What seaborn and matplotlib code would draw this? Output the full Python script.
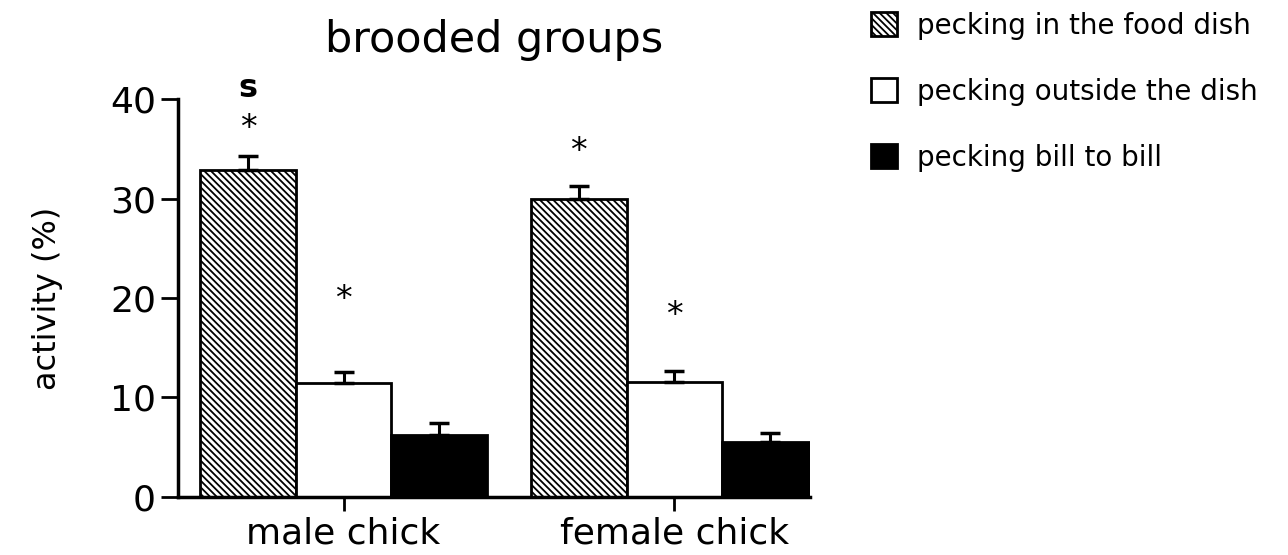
import matplotlib
matplotlib.use('Agg')
import matplotlib.pyplot as plt
import seaborn as sns
import pandas as pd

# data (activity in %)
groups = ['male chick', 'female chick']
behaviours = ['pecking in the food dish', 'pecking outside the dish', 'pecking bill to bill']
male_vals = [32.9, 11.4, 6.2]
female_vals = [30.0, 11.5, 5.5]
male_err = [1.4, 1.2, 1.2]
female_err = [1.3, 1.2, 0.9]
# significance marks: height of the "*" above each bar (None = no mark)
male_stars = [37.1, 19.9, None]
female_stars = [34.7, 18.2, None]

rows = []
for g, vals, errs in [(groups[0], male_vals, male_err), (groups[1], female_vals, female_err)]:
    for b, v, e in zip(behaviours, vals, errs):
        rows.append({'group': g, 'behaviour': b, 'activity': v, 'err': e})
df = pd.DataFrame(rows)

sns.set_theme(style='ticks')
plt.rcParams['font.family'] = ['DejaVu Sans']
plt.rcParams['text.color'] = 'black'
plt.rcParams['xtick.labelcolor'] = 'black'
plt.rcParams['ytick.labelcolor'] = 'black'
plt.rcParams['axes.labelcolor'] = 'black'
plt.rcParams['hatch.linewidth'] = 1.3
plt.rcParams['hatch.color'] = 'black'

fig = plt.figure(figsize=(12.88, 5.55), dpi=100)
ax = fig.add_axes([0.1384, 0.105, 0.4904, 0.716])

palette = {behaviours[0]: 'white', behaviours[1]: 'white', behaviours[2]: 'black'}
sns.barplot(data=df, x='group', y='activity', hue='behaviour', order=groups,
            hue_order=behaviours, palette=palette, errorbar=None, width=0.866,
            edgecolor='black', linewidth=2, saturation=1, ax=ax, legend=False)

bars = list(ax.containers)

# dense hatch on the "food dish" bars
for p in bars[0]:
    p.set_hatch('\\\\\\\\\\')

# one-sided error bars + stars
stars = [male_stars, female_stars]
for i, cont in enumerate(bars):
    b = behaviours[i]
    for j, p in enumerate(cont):
        g = groups[j]
        row = df[(df.group == g) & (df.behaviour == b)].iloc[0]
        xc = p.get_x() + p.get_width() / 2
        ax.errorbar(xc, row.activity, yerr=[[0], [row.err]], fmt='none',
                    ecolor='black', elinewidth=2.2, capsize=7.5, capthick=2.5, zorder=1)
        s = stars[j][i]
        if s is not None:
            ax.text(xc, s, '*', ha='center', va='center', fontsize=24, clip_on=False)
            if i == 0 and j == 0:
                ax.text(xc, s + 4.0, 's', ha='center', va='center', fontsize=23,
                        fontweight='bold', clip_on=False)

ax.set_ylim(0, 40)
ax.set_xlim(-0.5, 1.41)
ax.set_yticks([0, 10, 20, 30, 40])
ax.set_xlabel('')
ax.set_ylabel('activity (%)', fontsize=23, labelpad=34)
ax.set_title('brooded groups', fontsize=31, pad=34)
ax.tick_params(axis='y', labelsize=26, length=12, width=2, color='black', pad=4)
ax.tick_params(axis='x', labelsize=26, length=10, width=2, color='black', pad=4)
for side in ['top', 'right']:
    ax.spines[side].set_visible(False)
for side in ['left', 'bottom']:
    ax.spines[side].set_linewidth(2.5)
    ax.spines[side].set_color('black')

handles = [bars[k][0] for k in range(3)]
fig.legend(handles, behaviours, loc='upper left', bbox_to_anchor=(0.676, 0.979),
           frameon=False, fontsize=20, handlelength=0.93, handleheight=0.93,
           handletextpad=0.75, labelspacing=1.37, borderpad=0, borderaxespad=0)

fig.savefig('out.png', dpi=100)
